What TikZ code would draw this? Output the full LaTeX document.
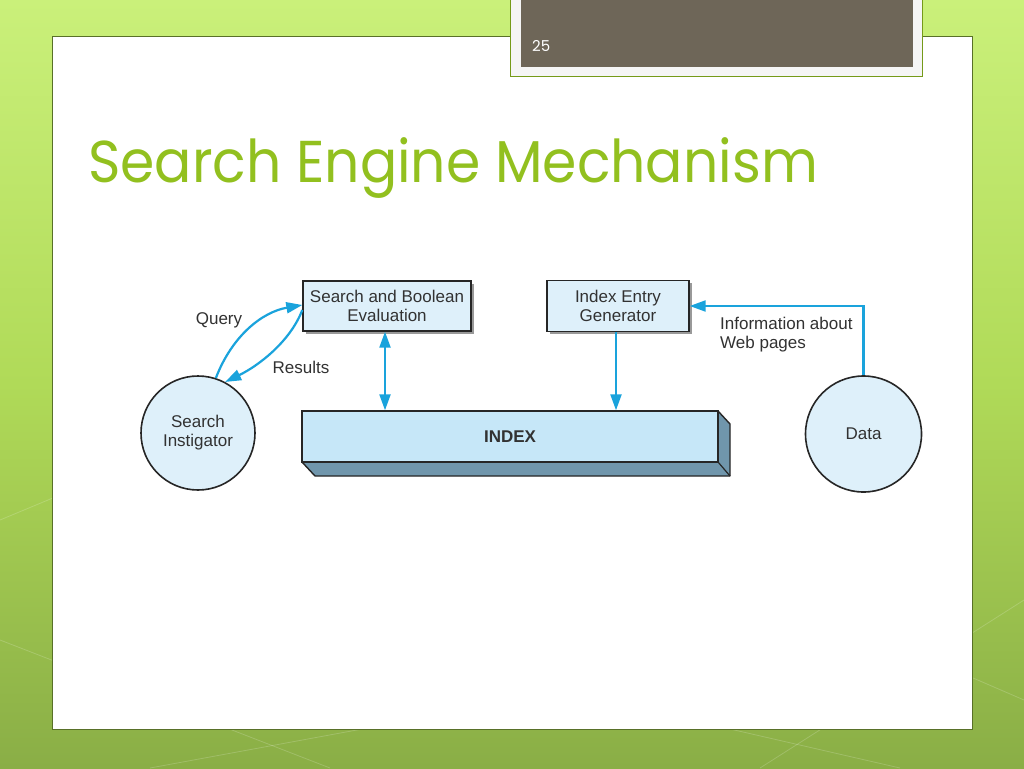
\documentclass[tikz,border=0pt]{standalone}
\usepackage{fontspec}
\setmainfont{Liberation Sans}
\newfontfamily\titlefont{Poppins}
\usetikzlibrary{arrows.meta,shadows}

\definecolor{bgtop}{RGB}{202,240,122}
\definecolor{bgmid}{RGB}{176,218,88}
\definecolor{bgbot}{RGB}{138,174,70}
\definecolor{panelline}{RGB}{88,112,40}
\definecolor{taupe}{RGB}{110,102,88}
\definecolor{titlegreen}{RGB}{146,192,31}
\definecolor{boxblue}{RGB}{222,240,250}
\definecolor{idxfront}{RGB}{198,231,248}
\definecolor{idxside}{RGB}{112,150,172}
\definecolor{flowblue}{RGB}{26,163,220}
\definecolor{txtgray}{RGB}{50,50,50}

\tikzset{
  procbox/.style={draw=black!85, fill=boxblue, line width=1.4pt, align=center,
    text=txtgray, font=\fontsize{17}{19}\selectfont, inner sep=0pt,
    drop shadow={shadow xshift=2.5pt, shadow yshift=-2.5pt, fill=black!50, opacity=0.8}},
  actor/.style={circle, draw=black!85, fill=boxblue, line width=1.6pt, align=center,
    text=txtgray, font=\fontsize{17}{19}\selectfont, inner sep=0pt},
  tip/.style={-{Triangle[length=16pt,width=11pt]}},
  flow/.style={draw=flowblue, line width=2.2pt, tip},
  flowlabel/.style={text=txtgray, font=\fontsize{17}{19}\selectfont, align=left, inner sep=0pt}
}

\begin{document}
\begin{tikzpicture}[x=1pt, y=-1pt]
  \useasboundingbox (0,0) rectangle (1024,768);
  %%%%% BACKGROUND %%%%%
  \shade[top color=bgtop, bottom color=bgbot, middle color=bgmid] (0,0) rectangle (1024,768);
  \foreach \xa/\ya/\xb/\yb in {0/640/330/768, 150/768/520/700, 560/690/900/768, 760/768/1024/600, 1024/700/700/560, 0/520/120/470}
    \draw[white, opacity=0.18, line width=0.8pt] (\xa,\ya) -- (\xb,\yb);
  \draw[panelline, line width=1pt, fill=white] (52,37) rectangle (972,729);

  %%%%% SLIDE NUMBER %%%%%
  \draw[draw=titlegreen!80!black, fill=black!4, line width=1pt] (510,-5) rectangle (922,76);
  \fill[taupe] (521,-5) rectangle (913,67);
  \node[anchor=base west, text=white, inner sep=0pt] (num) at (532,52)
    {\titlefont\fontsize{15}{15}\selectfont 25};

  %%%%% TITLE %%%%%
  \node[anchor=base west, text=titlegreen, inner sep=0pt] (title) at (88,182)
    {\scalebox{0.936}[1]{\titlefont\fontsize{59}{60}\selectfont Search Engine Mechanism}};

  %%%%% DIAGRAM %%%%%
  \node[procbox, minimum width=168pt, minimum height=50pt] (sbe) at (387,306)
    {Search and Boolean\\Evaluation};
  \node[procbox, minimum width=142pt, minimum height=51pt] (ieg) at (618,306)
    {Index Entry\\Generator};
  \node[actor, minimum size=114pt] (si) at (198,433) {Search\\Instigator};
  \node[actor, minimum size=116pt] (data) at (863.5,434) {Data};

  % index slab, front face and depth
  \draw[draw=black!85, fill=idxside, line width=1.4pt, line join=round]
    (302,462) -- (718,462) -- (718,411) -- (730,424) -- (730,476) -- (315,476) -- cycle;
  \draw[draw=black!85, line width=1.2pt] (718,462) -- (730,476);
  \node[draw=black!85, fill=idxfront, line width=1.4pt, minimum width=416pt, minimum height=51pt,
    font=\bfseries\fontsize{17}{19}\selectfont, text=txtgray] (idx) at (510,436.5) {INDEX};

  % connectors
  \draw[flow] (si.72) .. controls (232,336) and (262,312) .. ([yshift=1pt]sbe.west);
  \draw[flow] ([yshift=-4pt]sbe.west) .. controls (290,342) and (258,366) .. (si.62);
  \draw[flow, {Triangle[length=16pt,width=11pt]}-{Triangle[length=16pt,width=11pt]}]
    ([xshift=-2pt]sbe.south) -- ([xshift=-2pt]sbe.south |- idx.north);
  \draw[flow] ([xshift=-2pt]ieg.south) -- ([xshift=-2pt]ieg.south |- idx.north);
  \draw[flow] (data.north) |- (ieg.east);

  \node[flowlabel] (query) at (219,320) {Query};
  \node[flowlabel] (results) at (301,367) {Results};
  \node[flowlabel, anchor=west] (info) at (720,335) {Information about\\Web pages};
\end{tikzpicture}
\end{document}
